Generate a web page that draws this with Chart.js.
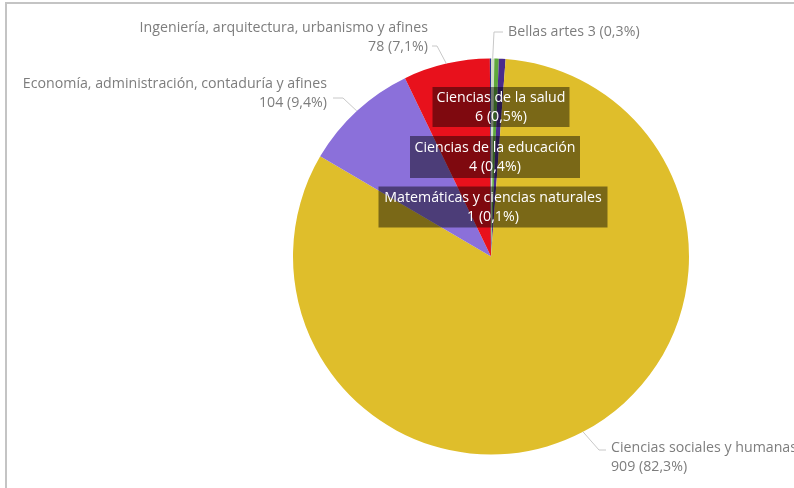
<!DOCTYPE html>
<html>
<head>
<meta charset="utf-8">
<script src="https://cdn.jsdelivr.net/npm/chart.js@4.4.1/dist/chart.umd.min.js"></script>
<style>
  html, body { margin: 0; padding: 0; background: #fff; }
  #wrap { position: relative; width: 794px; height: 488px; overflow: hidden; }
  #frameTop { position: absolute; left: 5px; top: 2px; width: 789px; height: 2px; background: #c4c4c4; }
  #frameLeft { position: absolute; left: 5px; top: 2px; width: 2px; height: 486px; background: #c4c4c4; }
  canvas { position: absolute; left: 0; top: 0; }
</style>
</head>
<body>
<div id="wrap">
  <canvas id="c" width="794" height="488"></canvas>
  <div id="frameTop"></div>
  <div id="frameLeft"></div>
</div>
<script>
// ---- Data ----
const categories = [
  "Bellas artes",
  "Ciencias de la educación",
  "Ciencias de la salud",
  "Ciencias sociales y humanas",
  "Economía, administración, contaduría y afines",
  "Ingeniería, arquitectura, urbanismo y afines",
  "Matemáticas y ciencias naturales"
];
const values = [3, 4, 6, 909, 104, 78, 1];
const colors = ["#cfdcc6", "#5ea83c", "#4a2b8c", "#dfbe2b", "#8b70da", "#e8111c", "#2b2f9a"];

// ---- Label layout (positions only, not data) ----
const outsideLabels = {
  0: { x: 508, y: 32, align: "left", oneLine: true, elbow: [494, 32], end: [503, 32] },
  3: { x: 611, y: 448, align: "left", elbow: [599, 450], end: [606, 450] },
  4: { x: 327, y: 84, align: "right", elbow: [343, 98], end: [333, 98] },
  5: { x: 428, y: 28, align: "right", elbow: [437, 46], end: [432, 46] }
};
const insideLabels = {
  2: { cx: 501, cy: 107, w: 137, h: 40 },
  1: { cx: 495, cy: 157, w: 170, h: 42 },
  6: { cx: 493, cy: 207, w: 229, h: 41 }
};

const total = values.reduce((a, b) => a + b, 0);
function valueText(i) {
  const pct = (values[i] / total * 100).toFixed(1).replace(".", ",");
  return values[i] + " (" + pct + "%)";
}

const FONT = "14.2px 'Open Sans', 'Noto Sans', sans-serif";

const labelPlugin = {
  id: "pbiLabels",
  afterDatasetsDraw(chart) {
    const ctx = chart.ctx;
    const meta = chart.getDatasetMeta(0);
    ctx.save();
    ctx.font = FONT;
    ctx.textBaseline = "middle";
    Object.keys(outsideLabels).forEach(k => {
      const i = +k;
      const L = outsideLabels[i];
      const arc = meta.data[i];
      const mid = (arc.startAngle + arc.endAngle) / 2;
      const ax = arc.x + Math.cos(mid) * arc.outerRadius;
      const ay = arc.y + Math.sin(mid) * arc.outerRadius;
      ctx.strokeStyle = "#c8c8c8";
      ctx.lineWidth = 1;
      ctx.beginPath();
      ctx.moveTo(ax, ay);
      ctx.lineTo(L.elbow[0], L.elbow[1]);
      ctx.lineTo(L.end[0], L.end[1]);
      ctx.stroke();
      ctx.fillStyle = "#7d7d7d";
      ctx.textAlign = L.align;
      if (L.oneLine) {
        ctx.fillText(categories[i] + " " + valueText(i), L.x, L.y);
      } else {
        ctx.fillText(categories[i], L.x, L.y);
        ctx.fillText(valueText(i), L.x, L.y + 19);
      }
    });
    Object.keys(insideLabels).forEach(k => {
      const i = +k;
      const B = insideLabels[i];
      ctx.fillStyle = "rgba(0,0,0,0.45)";
      ctx.fillRect(B.cx - B.w / 2, B.cy - B.h / 2, B.w, B.h);
      ctx.fillStyle = "#ffffff";
      ctx.textAlign = "center";
      ctx.fillText(categories[i], B.cx, B.cy - 9);
      ctx.fillText(valueText(i), B.cx, B.cy + 10);
    });
    ctx.restore();
  }
};

new Chart(document.getElementById("c"), {
  type: "pie",
  data: {
    labels: categories,
    datasets: [{
      data: values,
      backgroundColor: colors,
      borderWidth: 0
    }]
  },
  options: {
    responsive: false,
    animation: false,
    layout: { padding: { left: 293, right: 105, top: 58, bottom: 33 } },
    plugins: {
      legend: { display: false },
      tooltip: { enabled: false }
    }
  },
  plugins: [labelPlugin]
});
</script>
</body>
</html>
